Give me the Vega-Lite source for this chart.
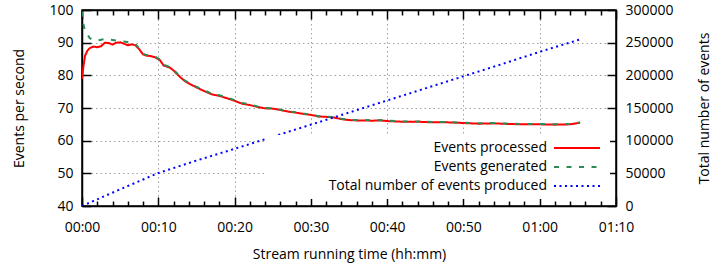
{
  "$schema": "https://vega.github.io/schema/vega-lite/v6.json",
  "width": 534,
  "height": 196,
  "autosize": {"type": "none"},
  "padding": {"left": 82, "top": 10, "right": 97, "bottom": 62},
  "background": "white",
  "config": {
    "font": "Open Sans",
    "view": {"stroke": "black", "strokeWidth": 1.5},
    "axis": {
      "labelFont": "Open Sans",
      "labelFontSize": 14,
      "labelColor": "black",
      "titleFont": "Open Sans",
      "titleFontSize": 14,
      "titleFontWeight": "normal",
      "titleColor": "black",
      "domainColor": "black",
      "domainWidth": 1.5,
      "tickColor": "black",
      "tickWidth": 1.5,
      "gridColor": "#a0a0a0",
      "gridDash": [1.5, 3],
      "gridWidth": 1
    },
    "legend": {
      "title": null, "orient": "none", "legendX": 185, "legendY": 125,
      "direction": "vertical", "symbolType": "M-4.6,0H4.6", "symbolSize": 100,
      "symbolStrokeWidth": 2, "labelFont": "Open Sans", "labelFontSize": 14,
      "labelColor": "black", "labelAlign": "right", "labelOffset": -37,
      "symbolOffset": 297, "rowPadding": 5, "fillColor": "white", "padding": 6,
      "labelLimit": 400, "strokeColor": null
    }
  },
  "datasets": {
    "processed": [
      {"t": 0, "v": 78.9}, {"t": 0.2, "v": 83}, {"t": 0.4, "v": 86}, {"t": 0.7, "v": 87.5},
      {"t": 1.0, "v": 88.3}, {"t": 1.5, "v": 88.8}, {"t": 2.0, "v": 88.6}, {"t": 2.5, "v": 88.9},
      {"t": 3.0, "v": 90.0}, {"t": 3.5, "v": 89.9}, {"t": 4.0, "v": 89.4}, {"t": 4.5, "v": 90.0},
      {"t": 5.0, "v": 90.1}, {"t": 5.5, "v": 89.7}, {"t": 6.0, "v": 89.2}, {"t": 6.5, "v": 89.5},
      {"t": 7.0, "v": 89.2}, {"t": 7.5, "v": 88.0}, {"t": 8.0, "v": 86.4}, {"t": 8.5, "v": 86.0},
      {"t": 9.0, "v": 85.9}, {"t": 9.6, "v": 85.5}, {"t": 10.2, "v": 84.7}, {"t": 10.7, "v": 83.0},
      {"t": 11.5, "v": 82.4}, {"t": 12.0, "v": 81.5}, {"t": 12.5, "v": 80.3}, {"t": 13.0, "v": 79.2},
      {"t": 13.5, "v": 78.2}, {"t": 14.0, "v": 77.5}, {"t": 15.0, "v": 76.3}, {"t": 16.0, "v": 75.2},
      {"t": 17.0, "v": 74.2}, {"t": 18.0, "v": 73.7}, {"t": 19.0, "v": 73.0}, {"t": 20.0, "v": 72.2},
      {"t": 21.0, "v": 71.3}, {"t": 22.0, "v": 70.9}, {"t": 23.0, "v": 70.3}, {"t": 24.0, "v": 69.9},
      {"t": 25.0, "v": 69.8}, {"t": 26.0, "v": 69.4}, {"t": 27.0, "v": 68.9}, {"t": 28.0, "v": 68.6},
      {"t": 29.0, "v": 68.2}, {"t": 30.0, "v": 67.9}, {"t": 31.0, "v": 67.4}, {"t": 32.0, "v": 67.3},
      {"t": 33.0, "v": 67.1}, {"t": 34.0, "v": 66.6}, {"t": 35.0, "v": 66.3}, {"t": 36.0, "v": 66.2},
      {"t": 37.0, "v": 66.2}, {"t": 38.0, "v": 66.1}, {"t": 39.0, "v": 66.2}, {"t": 40.0, "v": 66.0},
      {"t": 42.0, "v": 65.8}, {"t": 44.0, "v": 65.8}, {"t": 46.0, "v": 65.6}, {"t": 48.0, "v": 65.6},
      {"t": 50.0, "v": 65.4}, {"t": 52.0, "v": 65.2}, {"t": 54.0, "v": 65.3}, {"t": 56.0, "v": 65.1},
      {"t": 58.0, "v": 65.0}, {"t": 60.0, "v": 65.0}, {"t": 62.0, "v": 64.9}, {"t": 64.0, "v": 65.0},
      {"t": 65.3, "v": 65.5}
    ],
    "generated": [
      {"t": 0, "v": 99.5}, {"t": 0.15, "v": 96}, {"t": 0.35, "v": 94}, {"t": 0.6, "v": 93},
      {"t": 1.0, "v": 91.4}, {"t": 1.5, "v": 90.8}, {"t": 2.0, "v": 90.7}, {"t": 3.0, "v": 91.1},
      {"t": 4.0, "v": 90.8}, {"t": 5.0, "v": 90.5}, {"t": 6.0, "v": 90.2}, {"t": 7.0, "v": 89.6},
      {"t": 7.5, "v": 88.2}, {"t": 8.0, "v": 86.6}, {"t": 8.5, "v": 86.2},
      {"t": 9.0, "v": 86.1}, {"t": 9.6, "v": 85.7}, {"t": 10.2, "v": 84.9}, {"t": 10.7, "v": 83.2},
      {"t": 11.5, "v": 82.6}, {"t": 12.0, "v": 81.7}, {"t": 12.5, "v": 80.5}, {"t": 13.0, "v": 79.4},
      {"t": 13.5, "v": 78.4}, {"t": 14.0, "v": 77.7}, {"t": 15.0, "v": 76.5}, {"t": 16.0, "v": 75.4},
      {"t": 17.0, "v": 74.4}, {"t": 18.0, "v": 73.9}, {"t": 19.0, "v": 73.2}, {"t": 20.0, "v": 72.4},
      {"t": 21.0, "v": 71.5}, {"t": 22.0, "v": 71.1}, {"t": 23.0, "v": 70.5}, {"t": 24.0, "v": 70.0},
      {"t": 25.0, "v": 69.9}, {"t": 26.0, "v": 69.5}, {"t": 27.0, "v": 69.0}, {"t": 28.0, "v": 68.7},
      {"t": 29.0, "v": 68.3}, {"t": 30.0, "v": 68.0}, {"t": 31.0, "v": 67.5}, {"t": 32.0, "v": 67.4},
      {"t": 33.0, "v": 67.2}, {"t": 34.0, "v": 66.7}, {"t": 35.0, "v": 66.4}, {"t": 36.0, "v": 66.3},
      {"t": 37.0, "v": 66.3}, {"t": 38.0, "v": 66.2}, {"t": 39.0, "v": 66.3}, {"t": 40.0, "v": 66.1},
      {"t": 42.0, "v": 65.9}, {"t": 44.0, "v": 65.9}, {"t": 46.0, "v": 65.7}, {"t": 48.0, "v": 65.7},
      {"t": 50.0, "v": 65.5}, {"t": 52.0, "v": 65.3}, {"t": 54.0, "v": 65.4}, {"t": 56.0, "v": 65.2},
      {"t": 58.0, "v": 65.1}, {"t": 60.0, "v": 65.1}, {"t": 62.0, "v": 65.0}, {"t": 64.0, "v": 65.1},
      {"t": 65.3, "v": 65.6}
    ],
    "total": [
      {"t": 0, "n": 0}, {"t": 2.5, "n": 12800}, {"t": 5, "n": 25500}, {"t": 7.5, "n": 38000},
      {"t": 10, "n": 50500}, {"t": 15, "n": 69500}, {"t": 20, "n": 87500}, {"t": 25, "n": 106000},
      {"t": 30, "n": 124500}, {"t": 35, "n": 143000}, {"t": 40, "n": 161500}, {"t": 45, "n": 180000},
      {"t": 50, "n": 198500}, {"t": 55, "n": 217000}, {"t": 60, "n": 236000}, {"t": 65.3, "n": 255000}
    ]
  },
  "resolve": {"scale": {"y": "independent"}, "axis": {"x": "independent", "y": "independent"}},
  "layer": [
    {
      "data": {"name": "processed"},
      "transform": [{"calculate": "'Events processed'", "as": "series"}],
      "mark": {"type": "line", "strokeWidth": 2, "clip": true},
      "encoding": {
        "x": {
          "field": "t", "type": "quantitative",
          "scale": {"domain": [0, 70], "nice": false, "zero": false},
          "axis": {
            "orient": "bottom", "values": [0, 10, 20, 30, 40, 50, 60, 70],
            "labelExpr": "(floor(datum.value/60) < 10 ? '0' : '') + floor(datum.value/60) + ':' + (datum.value % 60 < 10 ? '0' : '') + (datum.value % 60)",
            "tickSize": -9, "labelPadding": 23, "grid": true,
            "title": "Stream running time (hh:mm)", "titlePadding": 13,
            "labelFlush": false
          }
        },
        "y": {
          "field": "v", "type": "quantitative",
          "scale": {"domain": [40, 100], "nice": false, "zero": false},
          "axis": {
            "orient": "left", "values": [40, 50, 60, 70, 80, 90, 100],
            "tickSize": -9, "labelPadding": 18, "grid": true,
            "title": "Events per second", "titlePadding": 22
          }
        },
        "color": {
          "field": "series", "type": "nominal",
          "scale": {"domain": ["Events processed", "Events generated", "Total number of events produced"], "range": ["#ff0000", "#2e8b57", "#0000ff"]}
        },
        "strokeDash": {
          "field": "series", "type": "nominal",
          "scale": {"domain": ["Events processed", "Events generated", "Total number of events produced"], "range": [[1, 0], [5, 7.5], [2, 3.5]]}
        }
      }
    },
    {
      "data": {"name": "generated"},
      "transform": [{"calculate": "'Events generated'", "as": "series"}],
      "mark": {"type": "line", "strokeWidth": 2, "clip": true},
      "encoding": {
        "x": {
          "field": "t", "type": "quantitative",
          "axis": {"orient": "top", "values": [0, 10, 20, 30, 40, 50, 60, 70], "tickSize": -9, "labels": false, "grid": false, "title": null}
        },
        "y": {
          "field": "v", "type": "quantitative",
          "scale": {"domain": [40, 100], "nice": false, "zero": false},
          "axis": null
        },
        "color": {"field": "series", "type": "nominal"},
        "strokeDash": {"field": "series", "type": "nominal"}
      }
    },
    {
      "data": {"name": "total"},
      "transform": [{"calculate": "'Total number of events produced'", "as": "series"}],
      "mark": {"type": "line", "strokeWidth": 2, "clip": true},
      "encoding": {
        "x": {
          "field": "t", "type": "quantitative",
          "axis": {"orient": "bottom", "values": [2, 4, 6, 8, 12, 14, 16, 18, 22, 24, 26, 28, 32, 34, 36, 38, 42, 44, 46, 48, 52, 54, 56, 58, 62, 64, 66, 68], "tickSize": -5, "labels": false, "grid": false, "domain": false, "title": null}
        },
        "y": {
          "field": "n", "type": "quantitative",
          "scale": {"domain": [0, 300000], "nice": false},
          "axis": {
            "orient": "right", "values": [0, 50000, 100000, 150000, 200000, 250000, 300000],
            "format": "d", "tickSize": -9, "labelPadding": 18, "grid": false,
            "title": "Total number of events", "titleAngle": -90, "titlePadding": 38
          }
        },
        "color": {"field": "series", "type": "nominal"},
        "strokeDash": {"field": "series", "type": "nominal"}
      }
    },
    {
      "data": {"name": "total"},
      "transform": [{"calculate": "'Total number of events produced'", "as": "series"}],
      "mark": {"type": "line", "strokeWidth": 2, "opacity": 0},
      "encoding": {
        "x": {
          "field": "t", "type": "quantitative",
          "axis": {"orient": "top", "values": [2, 4, 6, 8, 12, 14, 16, 18, 22, 24, 26, 28, 32, 34, 36, 38, 42, 44, 46, 48, 52, 54, 56, 58, 62, 64, 66, 68], "tickSize": -5, "labels": false, "grid": false, "domain": false, "title": null}
        },
        "y": {
          "field": "n", "type": "quantitative",
          "scale": {"domain": [0, 300000], "nice": false},
          "axis": null
        },
        "color": {"field": "series", "type": "nominal"},
        "strokeDash": {"field": "series", "type": "nominal"}
      }
    }
  ]
}
